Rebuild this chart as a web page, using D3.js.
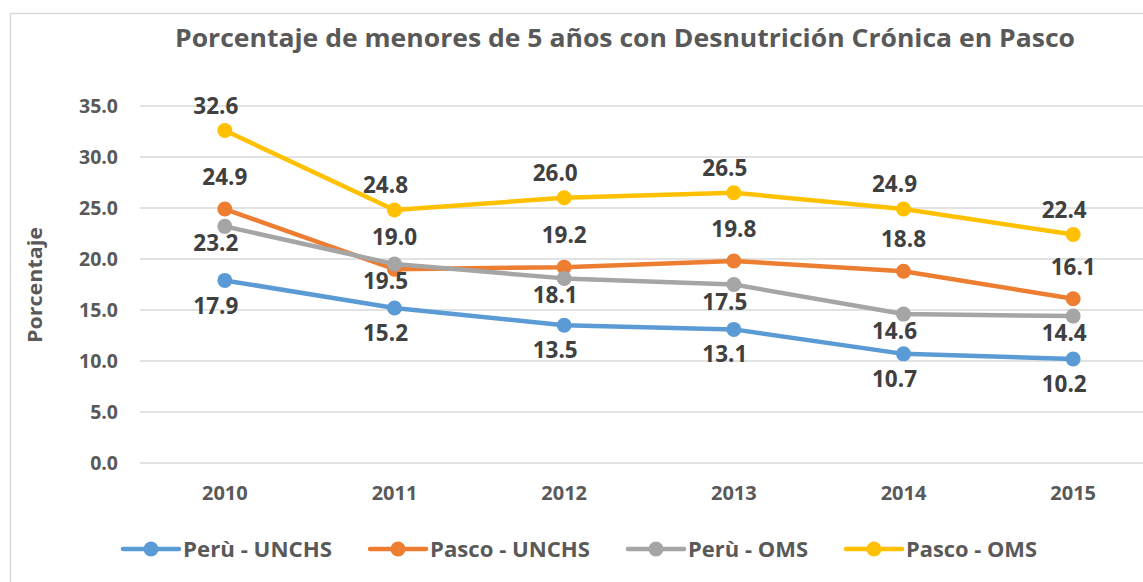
<!DOCTYPE html>
<html><head><meta charset="utf-8">
<script src="https://cdn.jsdelivr.net/npm/d3@7"></script>
<style>
body{margin:0;background:#fff}
text{font-family:"Open Sans",sans-serif;font-weight:bold}
</style>
</head><body>
<svg id="c" width="1143" height="582"></svg>
<script>
const years = ["2010","2011","2012","2013","2014","2015"];
const peruUNCHS  = [17.9, 15.2, 13.5, 13.1, 10.7, 10.2];
const pascoUNCHS = [24.9, 19.0, 19.2, 19.8, 18.8, 16.1];
const peruOMS    = [23.2, 19.5, 18.1, 17.5, 14.6, 14.4];
const pascoOMS   = [32.6, 24.8, 26.0, 26.5, 24.9, 22.4];
const seriesNames = ["Perù - UNCHS", "Pasco - UNCHS", "Perù - OMS", "Pasco - OMS"];
const yTicks = [0, 5, 10, 15, 20, 25, 30, 35];
const titleText = "Porcentaje de menores de 5 años con Desnutrición Crónica en Pasco";
const yTitle = "Porcentaje";

const colors = ["#5B9BD5", "#ED7D31", "#A5A5A5", "#FFC000"];
const labelDy = [25, -32, 17, -25];
const labelDx = [-9, 0, -9, -9];

const series = seriesNames.map((name, i) => ({
  name, color: colors[i], dy: labelDy[i], dx: labelDx[i],
  values: [peruUNCHS, pascoUNCHS, peruOMS, pascoOMS][i]
}));

const svg = d3.select("#c");
svg.append("rect").attr("width", 1143).attr("height", 582).attr("fill", "#fff");
// chart frame
svg.append("rect").attr("x", 10.5).attr("y", 13.5).attr("width", 1150).attr("height", 600)
  .attr("fill", "none").attr("stroke", "#d9d9d9").attr("stroke-width", 1.5);

const x = d3.scaleBand().domain(years).range([140, 1158]).paddingInner(0).paddingOuter(0);
const y = d3.scaleLinear().domain([0, 35]).range([463, 106]);
const cx = d => x(d) + x.bandwidth() / 2;

// gridlines
svg.append("g").selectAll("line").data(yTicks).join("line")
  .attr("x1", 140).attr("x2", 1143)
  .attr("y1", d => y(d)).attr("y2", d => y(d))
  .attr("stroke", "#d9d9d9").attr("stroke-width", 1.5);

// y axis labels
const yAxis = d3.axisLeft(y).tickValues(yTicks).tickFormat(d3.format(".1f")).tickSize(0).tickPadding(0);
const gy = svg.append("g").attr("transform", "translate(118,0)").call(yAxis);
gy.select(".domain").remove();
gy.selectAll("text").attr("font-size", 19.5).attr("fill", "#595959")
  .attr("font-family", "'Open Sans',sans-serif").attr("font-weight", "bold");

// x axis labels
const xAxis = d3.axisBottom(x).tickSize(0).tickPadding(0);
const gx = svg.append("g").attr("transform", "translate(0,486)").call(xAxis);
gx.select(".domain").remove();
gx.selectAll("text").attr("font-size", 20).attr("fill", "#595959")
  .attr("font-family", "'Open Sans',sans-serif").attr("font-weight", "bold");

// title
svg.append("text").attr("x", 625).attr("y", 47).attr("text-anchor", "middle")
  .attr("font-size", 25.5).attr("fill", "#595959")
  .attr("textLength", 900).attr("lengthAdjust", "spacingAndGlyphs")
  .text(titleText);

// y title
svg.append("text").attr("transform", "translate(42,285) rotate(-90)")
  .attr("text-anchor", "middle").attr("font-size", 20).attr("fill", "#595959")
  .attr("textLength", 116).attr("lengthAdjust", "spacingAndGlyphs")
  .text(yTitle);

// lines and markers
const line = d3.line().x((d, i) => cx(years[i])).y(d => y(d));
series.forEach(s => {
  const g = svg.append("g");
  g.append("path").datum(s.values).attr("d", line)
    .attr("fill", "none").attr("stroke", s.color).attr("stroke-width", 4.5)
    .attr("stroke-linejoin", "round").attr("stroke-linecap", "round");
  g.selectAll("circle").data(s.values).join("circle")
    .attr("cx", (d, i) => cx(years[i])).attr("cy", d => y(d)).attr("r", 7.5)
    .attr("fill", s.color);
});

// data labels
series.forEach(s => {
  svg.append("g").selectAll("text").data(s.values).join("text")
    .attr("x", (d, i) => cx(years[i]) + s.dx)
    .attr("y", d => y(d) + s.dy)
    .attr("dy", "0.36em")
    .attr("text-anchor", "middle").attr("font-size", 22.5).attr("fill", "#404040")
    .text(d => d.toFixed(1));
});

// legend
const legendWidths = [149, 160, 120, 131];
let lx = 123;
const ly = 549;
series.forEach((s, i) => {
  const g = svg.append("g").attr("transform", `translate(${lx},${ly})`);
  g.append("line").attr("x1", 0).attr("x2", 56).attr("y1", 0).attr("y2", 0)
    .attr("stroke", s.color).attr("stroke-width", 4.5).attr("stroke-linecap", "round");
  g.append("circle").attr("cx", 28).attr("cy", 0).attr("r", 7.5).attr("fill", s.color);
  g.append("text").attr("x", 60).attr("y", 0).attr("dy", "0.36em")
    .attr("font-size", 21).attr("fill", "#595959")
    .attr("textLength", legendWidths[i]).attr("lengthAdjust", "spacingAndGlyphs")
    .text(s.name);
  lx += 60 + legendWidths[i] + 38;
});
</script>
</body></html>
